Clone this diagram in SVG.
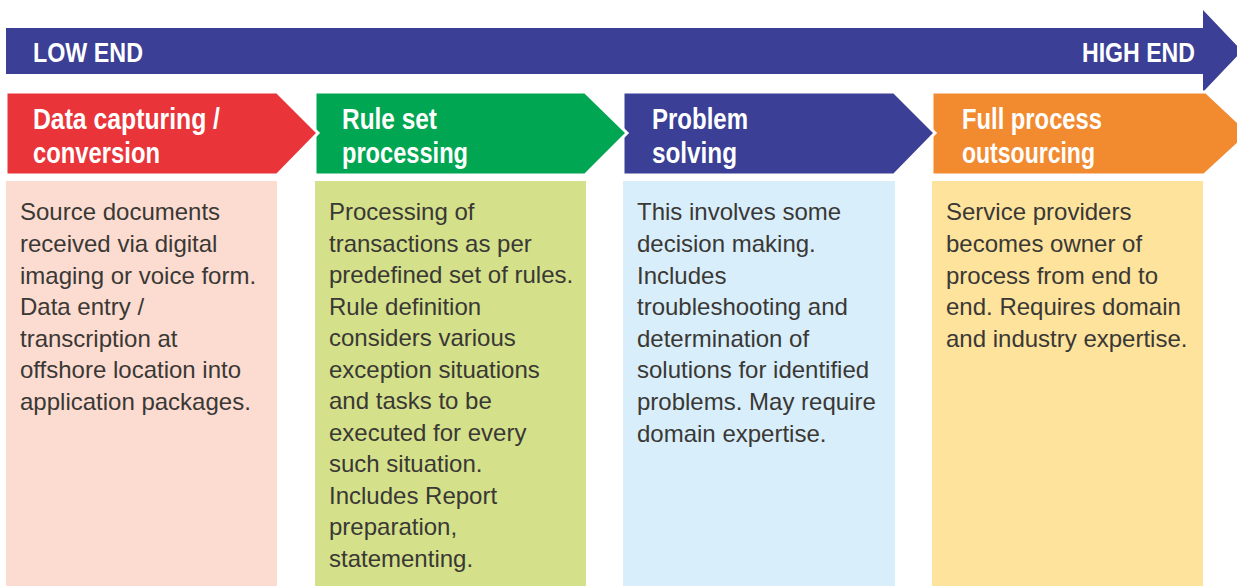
<svg xmlns="http://www.w3.org/2000/svg" width="1237" height="586" viewBox="0 0 1237 586">
<style>
.hd{font-family:"Liberation Sans",Arial,sans-serif;font-weight:bold;font-size:30px;fill:#ffffff}
.tp{font-family:"Liberation Sans",Arial,sans-serif;font-weight:bold;font-size:27px;fill:#ffffff}
.bd{font-family:"Liberation Sans",Arial,sans-serif;font-size:24px;fill:#3a3835}
.chev{stroke:#ffffff;stroke-width:3;stroke-linejoin:miter}
</style>
<rect width="1237" height="586" fill="#ffffff"/>
<g id="scale-arrow">
<polygon points="6,28 1203,28 1203,10 1242,51 1203,92 1203,74 6,74" fill="#3b3f95"/>
<text class="tp" x="33" y="62" textLength="110" lengthAdjust="spacingAndGlyphs">LOW END</text>
<text class="tp" x="1082" y="62" textLength="113" lengthAdjust="spacingAndGlyphs">HIGH END</text>
</g>
<g id="content-boxes">
<rect x="6" y="181" width="271" height="405" fill="#fcdcd0"/>
<rect x="315" y="181" width="271" height="405" fill="#d4e08a"/>
<rect x="623" y="181" width="272" height="405" fill="#d8eefa"/>
<rect x="932" y="181" width="271" height="405" fill="#fde39c"/>
</g>
<g id="full-process">
<polygon class="chev" points="932,92 1206,92 1250,133 1204,175 932,175" fill="#f28a30"/>
<text class="hd" x="962" y="129" textLength="140" lengthAdjust="spacingAndGlyphs">Full process</text>
<text class="hd" x="962" y="163" textLength="133" lengthAdjust="spacingAndGlyphs">outsourcing</text>
<text class="bd" x="946" y="220">Service providers</text>
<text class="bd" x="946" y="252">becomes owner of</text>
<text class="bd" x="946" y="284">process from end to</text>
<text class="bd" x="946" y="315">end. Requires domain</text>
<text class="bd" x="946" y="347">and industry expertise.</text>
</g>
<g id="problem-solving">
<polygon class="chev" points="623,92 894,92 935,133 894,175 623,175" fill="#3b3f95"/>
<text class="hd" x="652" y="129" textLength="96" lengthAdjust="spacingAndGlyphs">Problem</text>
<text class="hd" x="652" y="163" textLength="85" lengthAdjust="spacingAndGlyphs">solving</text>
<text class="bd" x="637" y="220">This involves some</text>
<text class="bd" x="637" y="252">decision making.</text>
<text class="bd" x="637" y="284">Includes</text>
<text class="bd" x="637" y="315">troubleshooting and</text>
<text class="bd" x="637" y="347">determination of</text>
<text class="bd" x="637" y="378">solutions for identified</text>
<text class="bd" x="637" y="410">problems. May require</text>
<text class="bd" x="637" y="442">domain expertise.</text>
</g>
<g id="rule-set">
<polygon class="chev" points="315,92 585,92 627,133 585,175 315,175" fill="#00a651"/>
<text class="hd" x="342" y="129" textLength="95" lengthAdjust="spacingAndGlyphs">Rule set</text>
<text class="hd" x="342" y="163" textLength="126" lengthAdjust="spacingAndGlyphs">processing</text>
<text class="bd" x="329" y="220">Processing of</text>
<text class="bd" x="329" y="252">transactions as per</text>
<text class="bd" x="329" y="283">predefined set of rules.</text>
<text class="bd" x="329" y="315">Rule definition</text>
<text class="bd" x="329" y="346">considers various</text>
<text class="bd" x="329" y="378">exception situations</text>
<text class="bd" x="329" y="409">and tasks to be</text>
<text class="bd" x="329" y="441">executed for every</text>
<text class="bd" x="329" y="472">such situation.</text>
<text class="bd" x="329" y="504">Includes Report</text>
<text class="bd" x="329" y="535">preparation,</text>
<text class="bd" x="329" y="567">statementing.</text>
</g>
<g id="data-capturing">
<polygon class="chev" points="6,92 277,92 318,133 277,175 6,175" fill="#e9343a"/>
<text class="hd" x="33" y="129" textLength="187" lengthAdjust="spacingAndGlyphs">Data capturing /</text>
<text class="hd" x="33" y="163" textLength="127" lengthAdjust="spacingAndGlyphs">conversion</text>
<text class="bd" x="20" y="220">Source documents</text>
<text class="bd" x="20" y="252">received via digital</text>
<text class="bd" x="20" y="284">imaging or voice form.</text>
<text class="bd" x="20" y="315">Data entry /</text>
<text class="bd" x="20" y="347">transcription at</text>
<text class="bd" x="20" y="378">offshore location into</text>
<text class="bd" x="20" y="410">application packages.</text>
</g>
<g id="connectors"></g>
</svg>
